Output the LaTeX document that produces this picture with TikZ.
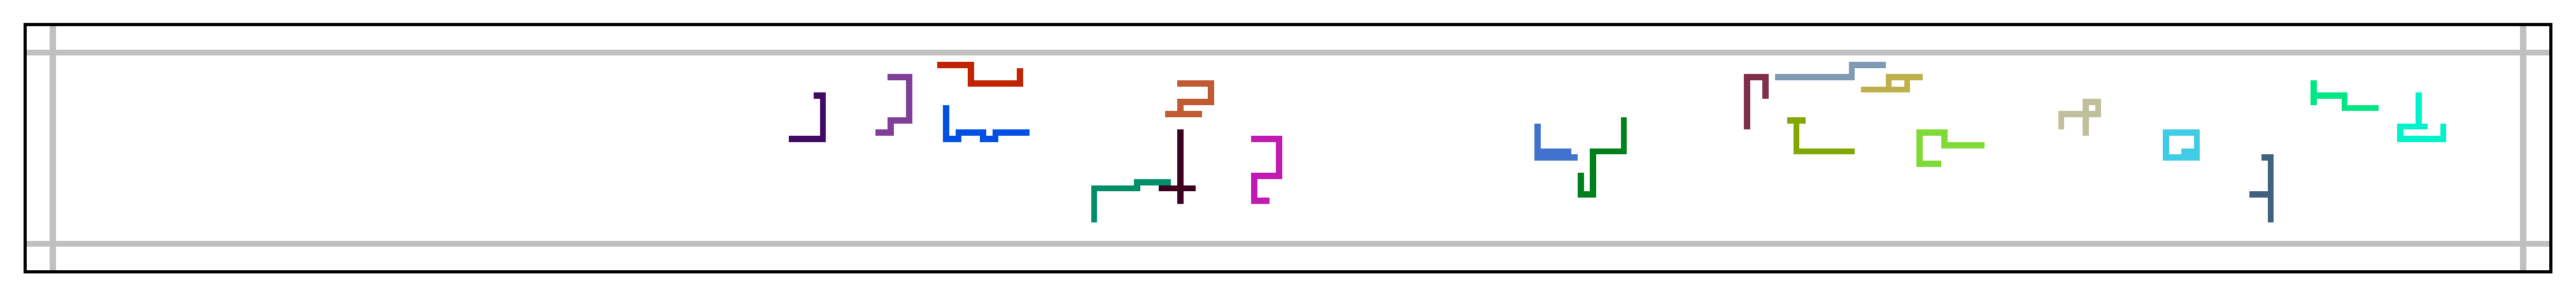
\documentclass[tikz,border=0pt]{standalone}
\definecolor{gridgray}{HTML}{C0C0C0}
\definecolor{ga}{HTML}{410A64}
\definecolor{gb}{HTML}{7F3F98}
\definecolor{gc}{HTML}{C02400}
\definecolor{gd}{HTML}{0050E4}
\definecolor{ge}{HTML}{C05A33}
\definecolor{gf}{HTML}{3E0020}
\definecolor{gg}{HTML}{008F68}
\definecolor{gh}{HTML}{C01AB2}
\definecolor{gi}{HTML}{4072CE}
\definecolor{gj}{HTML}{00801C}
\definecolor{gk}{HTML}{7F2F4C}
\definecolor{gl}{HTML}{7F9AB4}
\definecolor{gm}{HTML}{C0B04C}
\definecolor{gn}{HTML}{80A800}
\definecolor{go}{HTML}{80DA36}
\definecolor{gp}{HTML}{C0C09C}
\definecolor{gq}{HTML}{40CCE4}
\definecolor{gr}{HTML}{40627F}
\definecolor{gs}{HTML}{00E682}
\definecolor{gt}{HTML}{00F2CC}
\begin{document}
\begin{tikzpicture}[x=0.09676cm,y=-0.09676cm,
  cellpath/.style={line width=0.09676cm,line cap=rect,line join=miter}]
\useasboundingbox (-4.0926,-4.0306) rectangle (414.06,44.131);
% grid lines
\fill[gridgray] (0,4) rectangle (410,5);
\fill[gridgray] (0,35) rectangle (410,36);
\fill[gridgray] (4,0) rectangle (5,40);
\fill[gridgray] (405,0) rectangle (406,40);
\begin{scope}[shift={(0.5,0.5)}]
\draw[cellpath,ga] (128,11)--(129,11)--(129,18)--(124,18);
\draw[cellpath,gb] (140,8)--(143,8)--(143,15)--(140,15)--(140,17)--(138,17);
\draw[cellpath,gc] (148,6)--(153,6)--(153,9)--(161,9)--(161,7);
\draw[cellpath,gd] (149,13)--(149,18)--(151,18)--(151,17)--(155,17)--(155,18)--(157,18)--(157,17)--(162,17);
\draw[cellpath,ge] (187,9)--(192,9)--(192,12)--(187,12)--(187,14) (185,14)--(190,14);
\draw[cellpath,gf] (187,17)--(187,28) (184,26)--(189,26);
\draw[cellpath,gg] (173,31)--(173,26)--(180,26)--(180,25)--(185,25);
\draw[cellpath,gh] (199,18)--(203,18)--(203,24)--(199,24)--(199,28)--(201,28);
\draw[cellpath,gi] (245,16)--(245,21)--(251,21) (245,20)--(250,20);
\draw[cellpath,gj] (259,15)--(259,20)--(254,20)--(254,27)--(252,27)--(252,24);
\draw[cellpath,gk] (279,16)--(279,8)--(282,8)--(282,11);
\draw[cellpath,gl] (284,8)--(296,8)--(296,6)--(301,6);
\draw[cellpath,gm] (307,8)--(302,8)--(302,10)--(298,10) (302,10)--(305,10)--(305,8);
\draw[cellpath,gn] (286,15)--(288,15) (287,15)--(287,20)--(296,20);
\draw[cellpath,go] (310,22)--(307,22)--(307,17)--(311,17)--(311,19)--(317,19);
\draw[cellpath,gp] (330,16)--(330,14)--(336,14)--(336,12)--(334,12)--(334,17);
\draw[cellpath,gq] (350,20)--(352,20)--(352,17)--(347,17)--(347,21)--(352,21)--(352,20);
\draw[cellpath,gr] (363,21)--(364,21)--(364,31) (361,27)--(364,27);
\draw[cellpath,gs] (371,9)--(371,12) (371,11)--(376,11)--(376,13)--(381,13);
\draw[cellpath,gt] (388,11)--(388,16)--(385,16)--(385,18)--(392,18)--(392,16) (388,16)--(389,16);
\end{scope}
% frame
\draw[black,line width=0.05cm] (0,0) rectangle (410,40);
\end{tikzpicture}
\end{document}
